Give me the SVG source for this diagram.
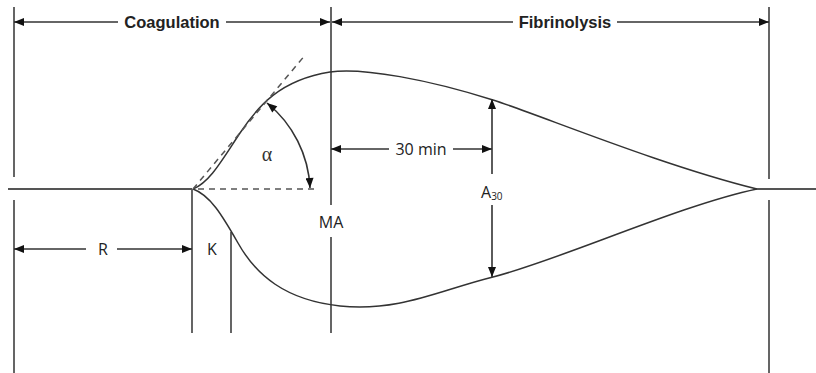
<svg xmlns="http://www.w3.org/2000/svg" width="816" height="373" viewBox="0 0 816 373">
<style>
.ln{stroke:#555;stroke-width:1.8;fill:none}
.cv{stroke:#333;stroke-width:1.5;fill:none}
.ar{stroke:#333;stroke-width:1.6;fill:none}
.ds{stroke:#555;stroke-width:1.5;fill:none;stroke-dasharray:6,5}
.tb{font-family:"Liberation Sans",Arial,sans-serif;font-weight:bold;font-size:16.5px;fill:#222}
.tr{font-family:"Open Sans","Liberation Sans",sans-serif;font-size:16px;fill:#222}
.tg{font-family:"Liberation Serif","Times New Roman",serif;font-size:20px;fill:#333}
</style>
<defs>
<marker id="ah" viewBox="0 0 10 8" refX="10" refY="4" markerWidth="11" markerHeight="8" markerUnits="userSpaceOnUse" orient="auto-start-reverse">
<path d="M0,0 L10,4 L0,8 z" fill="#111"/>
</marker>
</defs>
<rect width="816" height="373" fill="#fff"/>
<g id="axes">
<path class="ln" d="M14,7 V177 M14,200 V373"/>
<path class="ln" d="M769,7 V179 M769,200 V373"/>
<path class="ln" d="M331,7 V205 M331,237 V333"/>
<path class="ln" d="M192,189 V333"/>
<path class="ln" d="M231,232 V333"/>
<path class="ln" d="M8,189 H192 M757,189 H816"/>
</g>
<g id="tracing">
<path class="cv" d="M193,189 C210,182 222,160 240,133 C258,106 280,80 330,72 C362,67 430,80 493,100 C540,115 660,165 757,189"/>
<path class="cv" d="M193,189 C210,195 222,215 238,243 C256,275 285,300 340,306 C400,312 440,290 493,277 C560,260 680,205 757,189"/>
<path class="ds" d="M193,189 L306,54"/>
<path class="ds" d="M198,189 H316"/>
</g>
<g id="connectors">
<path class="ar" marker-start="url(#ah)" d="M14,22 H118"/>
<path class="ar" marker-end="url(#ah)" d="M226,22 H330"/>
<path class="ar" marker-start="url(#ah)" d="M332,22 H513"/>
<path class="ar" marker-end="url(#ah)" d="M617,22 H769"/>
<path class="ar" marker-start="url(#ah)" d="M14,249 H86"/>
<path class="ar" marker-end="url(#ah)" d="M117,249 H192"/>
<path class="ar" marker-start="url(#ah)" d="M331,149 H389"/>
<path class="ar" marker-end="url(#ah)" d="M453,149 H492"/>
<path class="ar" marker-start="url(#ah)" d="M492,99 V174"/>
<path class="ar" marker-end="url(#ah)" d="M492,205 V277"/>
<path class="ar" marker-start="url(#ah)" marker-end="url(#ah)" d="M267,103 A116,116 0 0 1 310,188"/>
</g>
<g id="label-coagulation"><text class="tb" x="172" y="28" text-anchor="middle">Coagulation</text></g>
<g id="label-fibrinolysis"><text class="tb" x="565" y="28" text-anchor="middle">Fibrinolysis</text></g>
<g id="label-alpha"><text class="tg" x="267" y="161" text-anchor="middle">α</text></g>
<g id="label-30min"><text class="tr" x="421" y="155" text-anchor="middle">30 min</text></g>
<g id="label-MA"><text class="tr" x="331" y="228" text-anchor="middle">MA</text></g>
<g id="label-A30"><text class="tr" x="481" y="198">A<tspan font-size="10" dy="2">30</tspan></text></g>
<g id="label-R"><text class="tr" x="103" y="255" text-anchor="middle">R</text></g>
<g id="label-K"><text class="tr" x="212" y="255" text-anchor="middle">K</text></g>
</svg>
